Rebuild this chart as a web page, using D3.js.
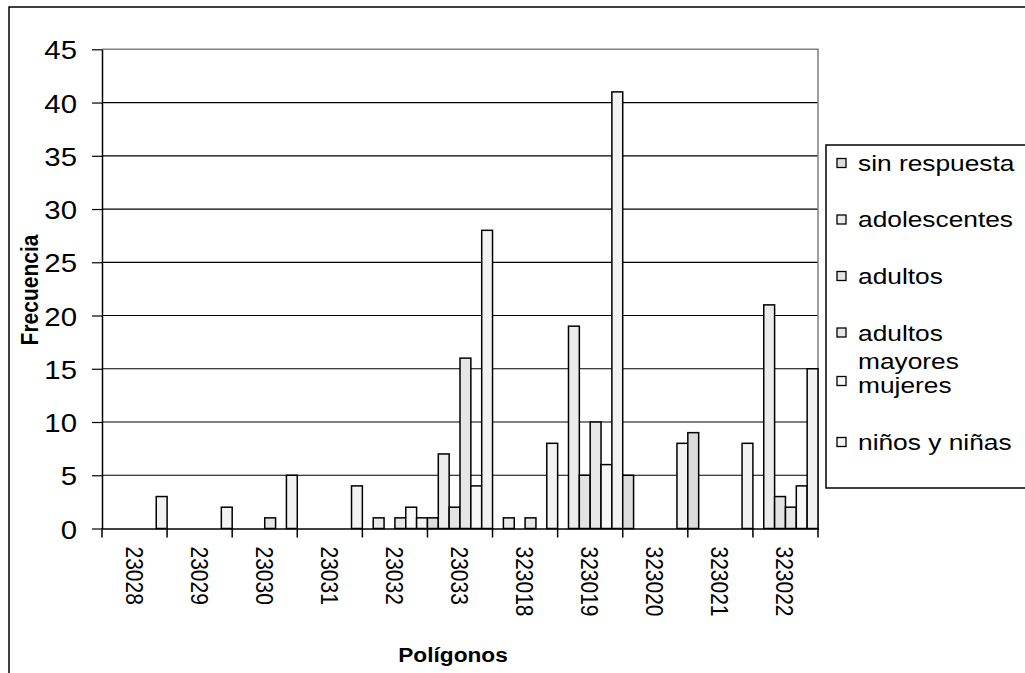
<!DOCTYPE html>
<html>
<head>
<meta charset="utf-8">
<script src="https://cdn.jsdelivr.net/npm/d3@7"></script>
<style>
  html, body { margin: 0; padding: 0; background: #fff; }
  svg { display: block; font-family: "Liberation Sans", Arial, sans-serif; }
</style>
</head>
<body>
<svg id="chart" width="1025" height="673"></svg>
<script>
const categories = ["23028","23029","23030","23031","23032","23033","323018","323019","323020","323021","323022"];
const seriesNames = ["sin respuesta","adolescentes","adultos","adultos mayores","mujeres","niños y niñas"];
const sinRespuesta   = [0,0,0,0,0,1,0,0,5,9,0];
const adolescentes   = [0,0,0,0,1,7,1,19,0,0,21];
const adultos        = [0,0,0,0,0,2,0,5,0,0,3];
const adultosMayores = [0,0,1,0,1,16,1,10,0,0,2];
const mujeres        = [0,0,0,0,2,4,0,6,0,0,4];
const ninos          = [3,2,5,4,1,28,8,41,8,8,15];
const yTicks = [0,5,10,15,20,25,30,35,40,45];

const seriesValues = [sinRespuesta, adolescentes, adultos, adultosMayores, mujeres, ninos];
const colors = ["#dcdcdc","#ebebeb","#e3e3e3","#e6e6e6","#f7f7f7","#f2f2f2"];

const svg = d3.select("#chart");
const L = 102, R = 818, T = 49.3, B = 528.5;

// outer border
svg.append("rect").attr("x", 9).attr("y", 7).attr("width", 1040).attr("height", 720)
  .attr("fill", "none").attr("stroke", "#000").attr("stroke-width", 1.5);

const x = d3.scaleBand().domain(categories).range([L, R]).paddingInner(0).paddingOuter(0);
const xs = d3.scaleBand().domain(seriesNames).range([0, x.bandwidth()]).padding(0);
const y = d3.scaleLinear().domain([0, 45]).range([B, T]);

// gridlines
svg.append("g").selectAll("line").data(yTicks.filter(t => t > 0 && t < 45)).join("line")
  .attr("x1", L).attr("x2", R).attr("y1", d => y(d)).attr("y2", d => y(d))
  .attr("stroke", "#000").attr("stroke-width", 1.2);

// plot border top/right (gray)
svg.append("path")
  .attr("d", `M${L},${y(45)}H${R}V${B}`)
  .attr("fill", "none").attr("stroke", "#808080").attr("stroke-width", 1.5);

// bars
const data = [];
categories.forEach((c, i) => seriesNames.forEach((s, j) => {
  data.push({ cat: c, series: s, value: seriesValues[j][i], color: colors[j] });
}));
svg.append("g").selectAll("rect").data(data.filter(d => d.value > 0)).join("rect")
  .attr("x", d => x(d.cat) + xs(d.series))
  .attr("width", xs.bandwidth())
  .attr("y", d => y(d.value))
  .attr("height", d => y(0) - y(d.value))
  .attr("fill", d => d.color)
  .attr("stroke", "#000").attr("stroke-width", 1.5);

// y axis
const yAxis = svg.append("g").attr("transform", `translate(${L},0)`)
  .call(d3.axisLeft(y).tickValues(yTicks).tickSize(10).tickSizeOuter(0).tickFormat(d3.format("d")));
yAxis.select(".domain").attr("stroke", "#000").attr("stroke-width", 1.5);
yAxis.selectAll(".tick line").attr("stroke", "#000").attr("stroke-width", 1.2);
yAxis.selectAll(".tick text")
  .attr("x", 0).attr("dy", "0.36em")
  .attr("transform", "translate(-25,0) scale(1.13,1.02)")
  .attr("font-size", 26).attr("font-family", "Liberation Sans, Arial, sans-serif").attr("fill", "#000");

// x axis
const xAxis = svg.append("g").attr("transform", `translate(0,${B})`)
  .call(d3.axisBottom(x).tickSize(0).tickSizeOuter(0));
xAxis.select(".domain").attr("stroke", "#000").attr("stroke-width", 1.5);
xAxis.selectAll(".tick text")
  .attr("y", 0).attr("dy", null)
  .attr("transform", "translate(-1,18) rotate(90) scale(1,1.15)")
  .attr("text-anchor", "start")
  .attr("dominant-baseline", "central")
  .attr("font-size", 21).attr("font-family", "Liberation Sans, Arial, sans-serif").attr("fill", "#000");
// boundary ticks
const bounds = categories.map(c => x(c)).concat([x(categories[categories.length - 1]) + x.bandwidth()]);
xAxis.append("g").selectAll("line").data(bounds).join("line")
  .attr("x1", d => d).attr("x2", d => d).attr("y1", 0).attr("y2", 9)
  .attr("stroke", "#000").attr("stroke-width", 1.5);

// axis titles
svg.append("text").attr("transform", "translate(38,290) rotate(-90) scale(1,1.15)")
  .attr("text-anchor", "middle").attr("font-weight", "bold").attr("font-size", 21)
  .text("Frecuencia");
svg.append("text").attr("transform", "translate(453,662) scale(1.08,1)")
  .attr("text-anchor", "middle").attr("font-weight", "bold").attr("font-size", 21)
  .text("Polígonos");

// legend
svg.append("rect").attr("x", 826).attr("y", 145).attr("width", 260).attr("height", 343)
  .attr("fill", "#fff").attr("stroke", "#000").attr("stroke-width", 1.5);
const legendRows = [163, 219.5, 276, 332.5, 381, 442];
const lg = svg.append("g").selectAll("g").data(seriesNames).join("g")
  .attr("transform", (d, i) => `translate(837,${legendRows[i]})`);
lg.append("rect").attr("x", 0).attr("y", -4.5).attr("width", 9).attr("height", 9)
  .attr("fill", (d, i) => colors[i]).attr("stroke", "#000").attr("stroke-width", 1.3);
lg.append("text")
  .attr("transform", d => d === "mujeres" ? "translate(21,4) scale(1.17,1)" : "translate(21,0) scale(1.17,1)")
  .attr("font-size", 22.5).attr("dominant-baseline", "central")
  .each(function(d) {
    const t = d3.select(this);
    if (d === "adultos mayores") {
      t.append("tspan").attr("x", 0).attr("dy", 0).text("adultos");
      t.append("tspan").attr("x", 0).attr("dy", 28).text("mayores");
    } else {
      t.text(d);
    }
  });
</script>
</body>
</html>
